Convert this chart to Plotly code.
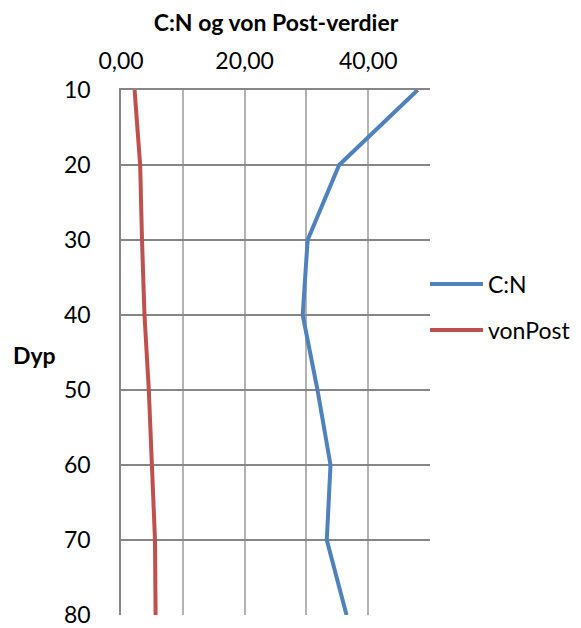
import plotly.graph_objects as go

# Depth profile (cm) with C:N ratio and von Post humification values
dyp = [10, 20, 30, 40, 50, 60, 70, 80]
cn = [48.0, 35.3, 30.2, 29.4, 31.8, 33.9, 33.3, 36.5]
vonpost = [2.2, 3.1, 3.4, 3.8, 4.5, 5.0, 5.5, 5.6]

x_tickvals = [0, 10, 20, 30, 40, 50]
x_ticktext = ["0,00", "", "20,00", "", "40,00", ""]
y_tickvals = [10, 20, 30, 40, 50, 60, 70, 80]

BLUE = "#4F81BD"
RED = "#C0504D"
FONT = "Lato"
FS = 23
LW = 4

fig = go.Figure()
fig.add_trace(go.Scatter(x=cn, y=dyp, mode="lines", name="C:N",
                         line=dict(color=BLUE, width=LW)))
fig.add_trace(go.Scatter(x=vonpost, y=dyp, mode="lines", name="vonPost",
                         line=dict(color=RED, width=LW)))

fig.update_layout(
    width=581, height=628,
    margin=dict(l=121, r=151, t=90, b=13),
    paper_bgcolor="white", plot_bgcolor="white",
    showlegend=False,
    font=dict(family=FONT, size=FS, color="black"),
    title=dict(text="<b>C:N og von Post-verdier</b>", x=276 / 581,
               xanchor="center", y=1 - 23 / 628, yanchor="middle",
               font=dict(family=FONT, size=FS, color="black")),
)

fig.update_xaxes(side="top", range=[0, 50], tickvals=x_tickvals, ticktext=x_ticktext,
                 showgrid=True, gridcolor="#B3B3B3", gridwidth=1.5,
                 showline=True, linecolor="#868686", linewidth=1.5,
                 zeroline=False, ticks="", ticklabelstandoff=10,
                 automargin=False, ticklabeloverflow="allow",
                 tickfont=dict(size=FS))
fig.update_yaxes(range=[80, 10], tickvals=y_tickvals,
                 showgrid=True, gridcolor="#868686", gridwidth=1.5,
                 showline=True, linecolor="#868686", linewidth=1.5,
                 zeroline=False, ticks="", ticklabelstandoff=24,
                 automargin=False, ticklabeloverflow="allow",
                 tickfont=dict(size=FS))

# Legend drawn to the right of the plot area
legend_items = [("C:N", BLUE, (615 - 284) / 525), ("vonPost", RED, (615 - 330) / 525)]
for label, color, yp in legend_items:
    fig.add_shape(type="line", xref="paper", yref="paper",
                  x0=1.0, x1=1 + 53 / 309, y0=yp, y1=yp,
                  line=dict(color=color, width=LW))
    fig.add_annotation(text=label, xref="paper", yref="paper",
                       x=1 + 56 / 309, y=yp, xanchor="left", yanchor="middle",
                       showarrow=False, font=dict(size=FS, color="black"))

fig.add_annotation(text="<b>Dyp</b>", xref="paper", yref="paper",
                   x=(35 - 121) / 309, y=(615 - 355) / 525,
                   xanchor="center", yanchor="middle", showarrow=False,
                   font=dict(size=FS, color="black"))

fig.write_html("out.html")
